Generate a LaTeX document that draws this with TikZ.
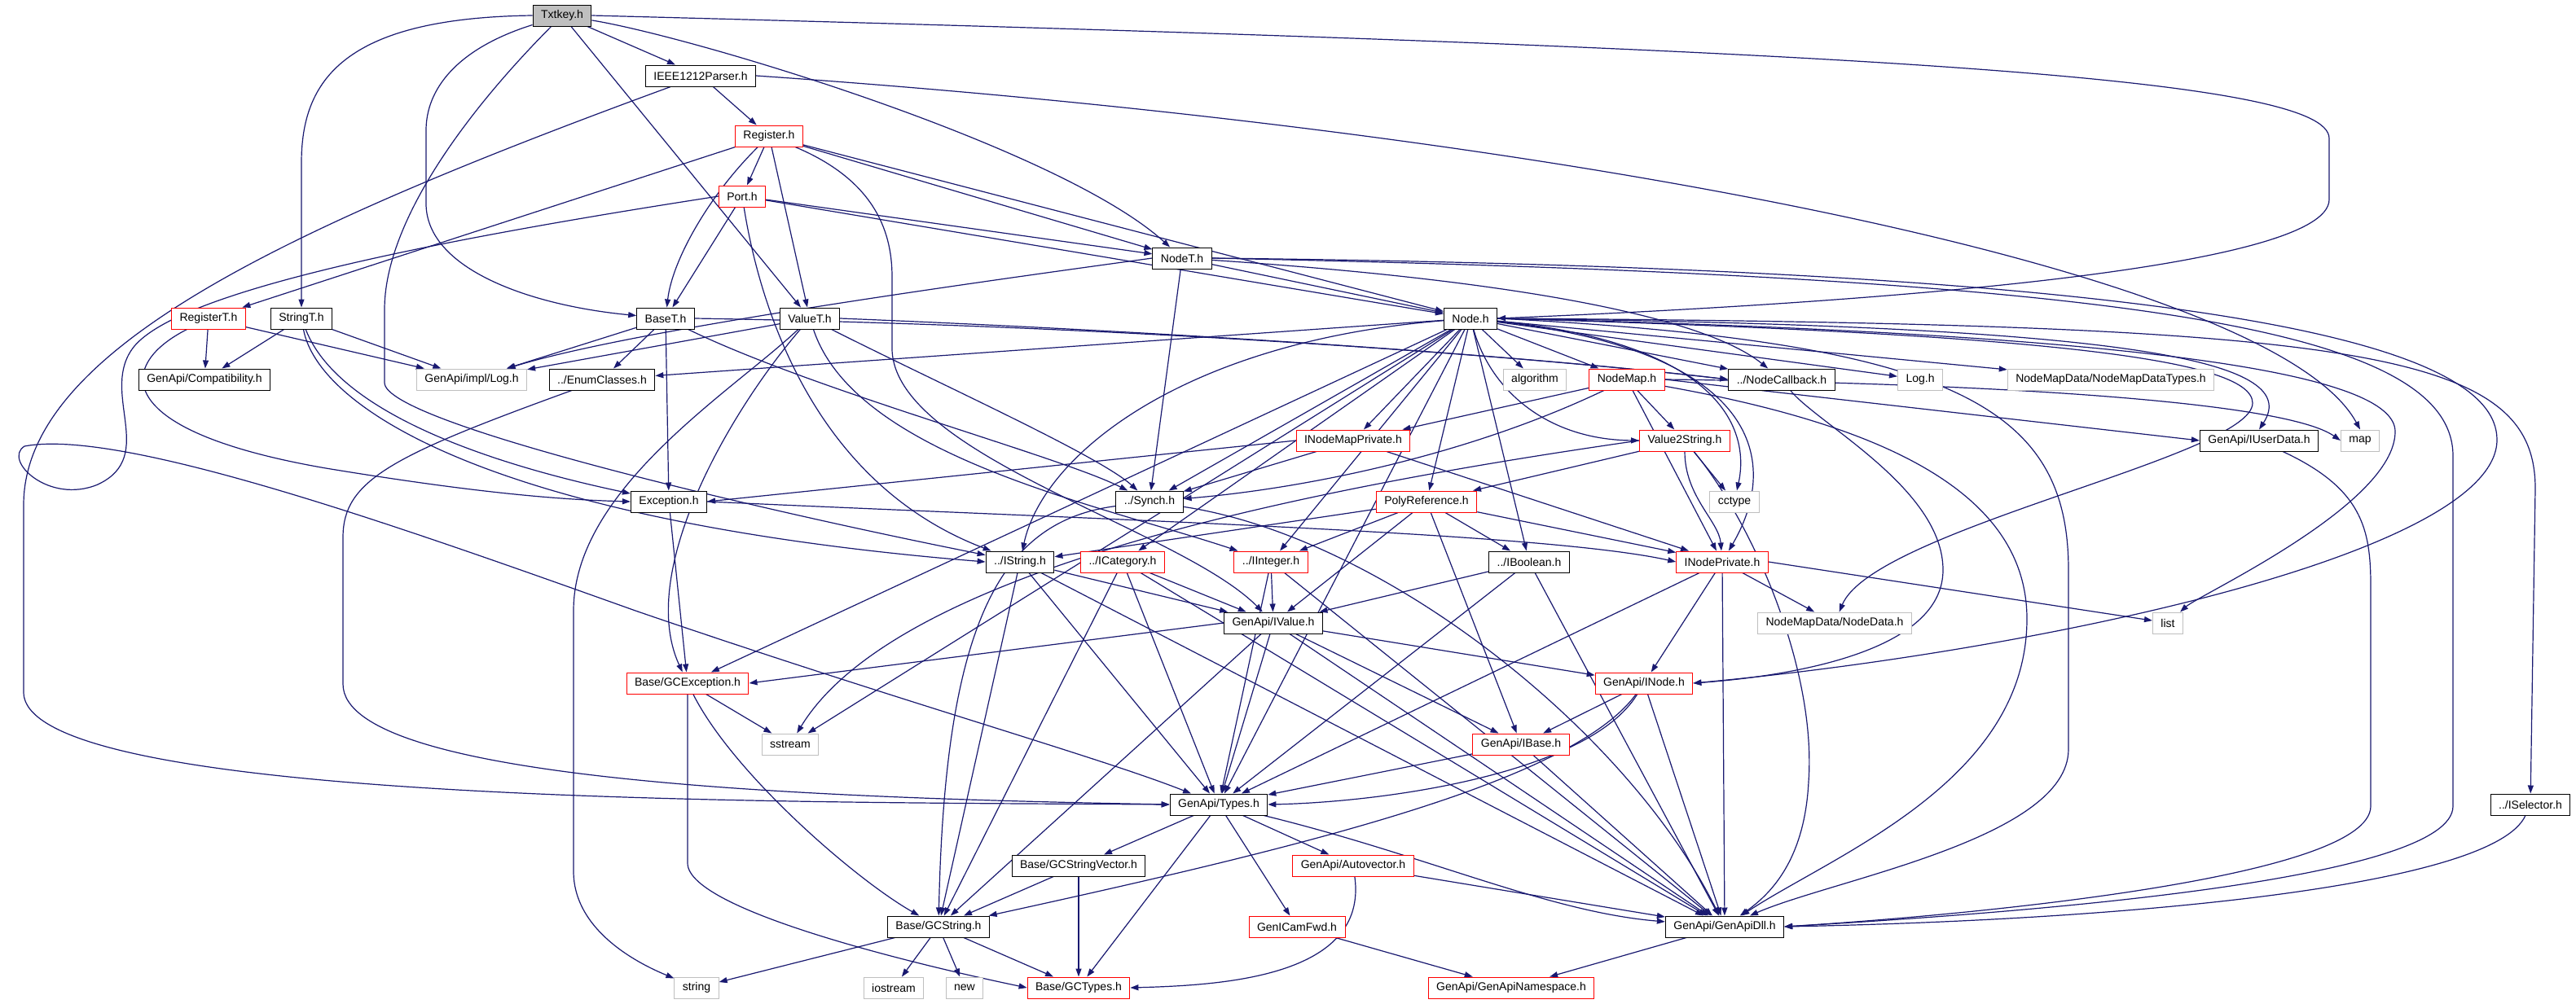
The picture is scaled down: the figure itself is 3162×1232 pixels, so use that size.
\documentclass[tikz,border=0pt]{standalone}
\usepackage{fontspec}
\setmainfont{Liberation Sans}
\usetikzlibrary{arrows.meta}
\pgfdeclarelayer{edges}
\pgfsetlayers{edges,main}
\definecolor{depblue}{HTML}{191970}
\definecolor{sysgray}{HTML}{BFBFBF}
\begin{document}
\begin{tikzpicture}[x=1pt,y=-1pt,
		file/.style={draw=black,fill=white,line width=1pt,minimum height=26pt,inner xsep=10pt,inner ysep=0pt,font=\fontsize{14}{16}\selectfont},
		part/.style={file,draw=red},
		sys/.style={file,draw=sysgray},
		dep/.style={depblue,line width=1.2pt,-{Triangle[length=10pt,width=7pt]}}]
	\useasboundingbox (0,0) rectangle (3162,1232);
	\node [file,fill=sysgray] (txtkey) at (690,19) {Txtkey.h};
	\node [file] (ieee) at (860,93) {IEEE1212Parser.h};
	\node [part] (register) at (944,167) {Register.h};
	\node [part] (port) at (911,241) {Port.h};
	\node [file] (nodet) at (1451,317) {NodeT.h};
	\node [part] (regt) at (256,391) {RegisterT.h};
	\node [file] (stringt) at (370,391) {StringT.h};
	\node [file] (baset) at (817,391) {BaseT.h};
	\node [file] (valuet) at (994,391) {ValueT.h};
	\node [file] (nodeh) at (1805,391) {Node.h};
	\node [file] (compat) at (251,466) {GenApi/Compatibility.h};
	\node [sys] (impllog) at (579,466) {GenApi/impl/Log.h};
	\node [file] (enumcl) at (739,466) {../EnumClasses.h};
	\node [sys] (algo) at (1884,466) {algorithm};
	\node [part] (nodemap) at (1997,466) {NodeMap.h};
	\node [file] (nodecb) at (2187,466) {../NodeCallback.h};
	\node [sys] (logh) at (2357,466) {Log.h};
	\node [sys] (nmdtypes) at (2591,466) {NodeMapData/NodeMapDataTypes.h};
	\node [part] (inmpriv) at (1661,541) {INodeMapPrivate.h};
	\node [part] (valstr) at (2068,541) {Value2String.h};
	\node [file] (userdata) at (2773,541) {GenApi/IUserData.h};
	\node [sys] (map) at (2897,541) {map};
	\node [file] (exception) at (821,616) {Exception.h};
	\node [file] (synch) at (1411,616) {../Synch.h};
	\node [part] (polyref) at (1751,616) {PolyReference.h};
	\node [sys] (cctype) at (2129,616) {cctype};
	\node [file] (istring) at (1252,690) {../IString.h};
	\node [part] (icat) at (1378,690) {../ICategory.h};
	\node [part] (iint) at (1560,690) {../IInteger.h};
	\node [file] (ibool) at (1877,690) {../IBoolean.h};
	\node [part] (inpriv) at (2114,690) {INodePrivate.h};
	\node [file] (ivalue) at (1563,765) {GenApi/IValue.h};
	\node [sys] (nodedata) at (2252,765) {NodeMapData/NodeData.h};
	\node [sys] (list) at (2661,765) {list};
	\node [part] (gcexc) at (844,839) {Base/GCException.h};
	\node [part] (inode) at (2018,839) {GenApi/INode.h};
	\node [sys] (sstream) at (970,914) {sstream};
	\node [part] (ibase) at (1867,914) {GenApi/IBase.h};
	\node [file] (types) at (1496,988) {GenApi/Types.h};
	\node [file] (isel) at (3106,988) {../ISelector.h};
	\node [file] (gcsv) at (1324,1063) {Base/GCStringVector.h};
	\node [part] (autovec) at (1661,1063) {GenApi/Autovector.h};
	\node [file] (gcstring) at (1152,1138) {Base/GCString.h};
	\node [part] (gcfwd) at (1592,1138) {GenICamFwd.h};
	\node [file] (dll) at (2117,1138) {GenApi/GenApiDll.h};
	\node [sys] (string) at (855,1213) {string};
	\node [sys] (iostream) at (1097,1213) {iostream};
	\node [sys] (new) at (1184,1213) {new};
	\node [part] (gctypes) at (1324,1213) {Base/GCTypes.h};
	\node [part] (namespace) at (1855,1213) {GenApi/GenApiNamespace.h};
	\begin{pgfonlayer}{edges}
	\fill [white] (0,0) rectangle (3162,1232);
	% Txtkey.h
	\draw [dep] (txtkey) -- (ieee);
	\draw [dep] (txtkey.west) .. controls (420,22) and (370,100) .. (370,200) -- (stringt);
	\draw [dep] (txtkey) .. controls (560,60) and (523,110) .. (523,160) -- (523,250) .. controls (523,330) and (650,375) .. (baset);
	\draw [dep] (txtkey) -- (valuet);
	\draw [dep] (txtkey) .. controls (850,45) and (1300,180) .. (nodet);
	\draw [dep] (txtkey.east) .. controls (2300,60) and (2859,95) .. (2859,170) -- (2859,245) .. controls (2859,330) and (2300,372) .. (nodeh.east);
	\draw [dep] (txtkey) .. controls (560,150) and (472,280) .. (472,380) -- (472,470) .. controls (472,520) and (950,630) .. (istring);
	% IEEE1212Parser.h
	\draw [dep] (ieee) -- (register);
	\draw [dep] (ieee) .. controls (350,280) and (29,430) .. (29,620) -- (29,850) .. controls (29,990) and (1000,985) .. (types.west);
	\draw [dep] (ieee.east) .. controls (1900,160) and (2790,330) .. (map.north);
	% Register.h
	\draw [dep] (register) -- (port);
	\draw [dep] (register) -- (regt);
	\draw [dep] (register) .. controls (870,240) and (825,320) .. (baset);
	\draw [dep] (register) -- (valuet);
	\draw [dep] (register) -- (nodet);
	\draw [dep] (register) -- (nodeh);
	\draw [dep] (register) .. controls (1070,220) and (1095,280) .. (1095,340) -- (1095,430) .. controls (1100,560) and (1450,650) .. (ivalue);
	% Port.h
	\draw [dep] (port) -- (nodet);
	\draw [dep] (port) -- (nodeh);
	\draw [dep] (port) -- (baset);
	\draw [dep] (port) .. controls (930,360) and (990,590) .. (istring);
	\draw [dep] (port.west) .. controls (500,300) and (220,360) .. (165,425) .. controls (120,480) and (195,560) .. (120,595) .. controls (60,620) and (3,565) .. (30,548) .. controls (150,525) and (500,650) .. (780,750) .. controls (1100,860) and (1350,930) .. (types);
	% NodeT.h
	\draw [dep] (nodet) -- (nodeh);
	\draw [dep] (nodet.west) .. controls (1100,360) and (760,410) .. (impllog);
	\draw [dep] (nodet) -- (synch);
	\draw [dep] (nodet) .. controls (1800,340) and (2080,380) .. (nodecb);
	\draw [dep] (nodet.east) .. controls (2700,330) and (3065,420) .. (3065,540) .. controls (3065,680) and (2500,800) .. (inode.east);
	\draw [dep] (nodet.east) .. controls (2600,340) and (3011,400) .. (3011,560) -- (3011,990) .. controls (3011,1080) and (2500,1120) .. (dll.east);
	% RegisterT.h, StringT.h
	\draw [dep] (regt) -- (compat);
	\draw [dep] (regt) -- (impllog);
	\draw [dep] (regt) .. controls (140,450) and (140,530) .. (400,575) .. controls (600,608) and (700,614) .. (exception.west);
	\draw [dep] (stringt) -- (compat);
	\draw [dep] (stringt) -- (impllog);
	\draw [dep] (stringt) .. controls (420,520) and (650,580) .. (exception);
	\draw [dep] (stringt) .. controls (390,500) and (600,640) .. (istring.west);
	% BaseT.h
	\draw [dep] (baset) -- (impllog);
	\draw [dep] (baset) -- (enumcl);
	\draw [dep] (baset) -- (exception);
	\draw [dep] (baset) .. controls (1000,480) and (1300,560) .. (synch);
	\draw [dep] (baset.east) .. controls (1400,400) and (1900,440) .. (nodecb.west);
	% ValueT.h
	\draw [dep] (valuet) -- (impllog);
	\draw [dep] (valuet) .. controls (900,500) and (780,700) .. (gcexc);
	\draw [dep] (valuet) .. controls (1150,470) and (1350,560) .. (synch);
	\draw [dep] (valuet) .. controls (1050,560) and (1350,620) .. (iint);
	\draw [dep] (valuet.east) .. controls (1500,410) and (1900,440) .. (nodecb.west);
	\draw [dep] (valuet) .. controls (900,480) and (704,600) .. (704,750) -- (704,1070) .. controls (704,1150) and (800,1190) .. (string);
	% Node.h
	\draw [dep] (nodeh) -- (enumcl);
	\draw [dep] (nodeh) -- (gcexc);
	\draw [dep] (nodeh) -- (sstream);
	\draw [dep] (nodeh) -- (synch);
	\draw [dep] (nodeh) .. controls (1450,420) and (1280,560) .. (istring);
	\draw [dep] (nodeh) -- (icat);
	\draw [dep] (nodeh) -- (iint);
	\draw [dep] (nodeh) -- (types);
	\draw [dep] (nodeh) -- (inmpriv);
	\draw [dep] (nodeh) -- (polyref);
	\draw [dep] (nodeh) -- (ibool);
	\draw [dep] (nodeh) -- (algo);
	\draw [dep] (nodeh) -- (nodemap);
	\draw [dep] (nodeh) .. controls (1830,480) and (1900,540) .. (valstr.west);
	\draw [dep] (nodeh) -- (nodecb);
	\draw [dep] (nodeh) -- (logh);
	\draw [dep] (nodeh) -- (nmdtypes);
	\draw [dep] (nodeh) .. controls (2150,430) and (2190,560) .. (inpriv);
	\draw [dep] (nodeh) .. controls (2100,420) and (2150,520) .. (cctype);
	\draw [dep] (nodeh.east) .. controls (2600,400) and (2830,440) .. (userdata.north);
	\draw [dep] (nodeh.east) .. controls (2650,410) and (2940,460) .. (2940,530) .. controls (2940,620) and (2700,730) .. (list);
	\draw [dep] (nodeh.east) .. controls (2500,410) and (2765,440) .. (2765,495) .. controls (2765,560) and (2300,650) .. (nodedata);
	\draw [dep] (nodeh.east) .. controls (2400,420) and (2539,500) .. (2539,700) -- (2539,920) .. controls (2539,1030) and (2250,1080) .. (dll);
	\draw [dep] (nodeh.east) .. controls (2900,398) and (3112,430) .. (3112,600) -- (isel);
	% NodeMap.h, INodeMapPrivate.h, Value2String.h
	\draw [dep] (nodemap) -- (inmpriv);
	\draw [dep] (nodemap) .. controls (1800,560) and (1600,600) .. (synch);
	\draw [dep] (nodemap) -- (valstr);
	\draw [dep] (nodemap) -- (inpriv);
	\draw [dep] (nodemap.east) -- (userdata.west);
	\draw [dep] (nodemap.east) .. controls (2400,470) and (2800,490) .. (map.west);
	\draw [dep] (nodemap) .. controls (2300,520) and (2488,600) .. (2488,760) .. controls (2488,960) and (2250,1050) .. (dll);
	\draw [dep] (inmpriv.west) -- (exception.east);
	\draw [dep] (inmpriv) -- (synch);
	\draw [dep] (inmpriv) -- (inpriv);
	\draw [dep] (valstr) -- (polyref);
	\draw [dep] (valstr) -- (cctype);
	\draw [dep] (valstr) .. controls (2068,610) and (2110,640) .. (inpriv);
	\draw [dep] (valstr.west) .. controls (1600,600) and (1100,700) .. (sstream);
	\draw [dep] (valstr) .. controls (2150,640) and (2230,820) .. (2220,960) .. controls (2215,1060) and (2170,1100) .. (dll);
	% PolyReference.h, ../Synch.h, Exception.h
	\draw [dep] (polyref) -- (istring);
	\draw [dep] (polyref) -- (iint);
	\draw [dep] (polyref) -- (ibool);
	\draw [dep] (polyref) -- (ivalue);
	\draw [dep] (polyref) -- (ibase);
	\draw [dep] (polyref) -- (inpriv);
	\draw [dep] (synch) .. controls (1230,640) and (1160,760) .. (gcstring);
	\draw [dep] (synch) .. controls (1700,660) and (2000,900) .. (dll);
	\draw [dep] (exception) -- (gcexc);
	\draw [dep] (exception.east) .. controls (1400,640) and (1900,655) .. (inpriv.west);
	% interfaces
	\draw [dep] (istring) -- (ivalue);
	\draw [dep] (istring) -- (types);
	\draw [dep] (istring) -- (gcstring);
	\draw [dep] (istring) -- (dll);
	\draw [dep] (icat) -- (ivalue);
	\draw [dep] (icat) -- (types);
	\draw [dep] (icat) -- (gcstring);
	\draw [dep] (icat) -- (dll);
	\draw [dep] (iint) -- (ivalue);
	\draw [dep] (iint) -- (types);
	\draw [dep] (iint) -- (dll);
	\draw [dep] (ibool) -- (ivalue);
	\draw [dep] (ibool) -- (types);
	\draw [dep] (ibool) -- (dll);
	\draw [dep] (inpriv) -- (inode);
	\draw [dep] (inpriv) -- (types);
	\draw [dep] (inpriv) -- (dll);
	\draw [dep] (inpriv) -- (nodedata);
	\draw [dep] (inpriv.east) -- (list);
	\draw [dep] (ivalue) -- (inode);
	\draw [dep] (ivalue) -- (ibase);
	\draw [dep] (ivalue) -- (types);
	\draw [dep] (ivalue) -- (gcstring);
	\draw [dep] (ivalue) -- (dll);
	\draw [dep] (ivalue.west) -- (gcexc.east);
	\draw [dep] (gcexc) -- (sstream);
	\draw [dep] (gcexc) .. controls (900,950) and (1050,1080) .. (gcstring);
	\draw [dep] (gcexc) -- (844,1060) .. controls (844,1120) and (1150,1190) .. (gctypes.west);
	\draw [dep] (inode) -- (ibase);
	\draw [dep] (inode) .. controls (1950,950) and (1700,985) .. (types.east);
	\draw [dep] (inode) .. controls (1930,960) and (1600,1040) .. (gcstring);
	\draw [dep] (inode) -- (dll);
	\draw [dep] (ibase) -- (types);
	\draw [dep] (ibase) -- (dll);
	\draw [dep] (nodecb) .. controls (2230,520) and (2385,600) .. (2385,700) .. controls (2385,800) and (2200,830) .. (inode.east);
	\draw [dep] (enumcl) .. controls (480,560) and (421,590) .. (421,660) -- (421,840) .. controls (421,960) and (1000,980) .. (types.west);
	% GenApi/Types.h and below
	\draw [dep] (types) -- (gcsv);
	\draw [dep] (types) -- (gctypes);
	\draw [dep] (types) -- (gcfwd);
	\draw [dep] (types) -- (autovec);
	\draw [dep] (types) .. controls (1750,1050) and (1900,1120) .. (dll);
	\draw [dep] (gcsv) -- (gcstring);
	\draw [dep] (gcsv) -- (gctypes);
	\draw [dep] (autovec) .. controls (1680,1200) and (1500,1210) .. (gctypes.east);
	\draw [dep] (autovec) -- (dll);
	\draw [dep] (gcstring) -- (string);
	\draw [dep] (gcstring) -- (iostream);
	\draw [dep] (gcstring) -- (new);
	\draw [dep] (gcstring) -- (gctypes);
	\draw [dep] (gcfwd) -- (namespace);
	\draw [dep] (dll) -- (namespace);
	\draw [dep] (userdata) .. controls (2900,600) and (2910,650) .. (2910,720) -- (2910,990) .. controls (2910,1080) and (2400,1125) .. (dll.east);
	\draw [dep] (isel) .. controls (3060,1090) and (2600,1130) .. (dll.east);
	\end{pgfonlayer}
\end{tikzpicture}
\end{document}
